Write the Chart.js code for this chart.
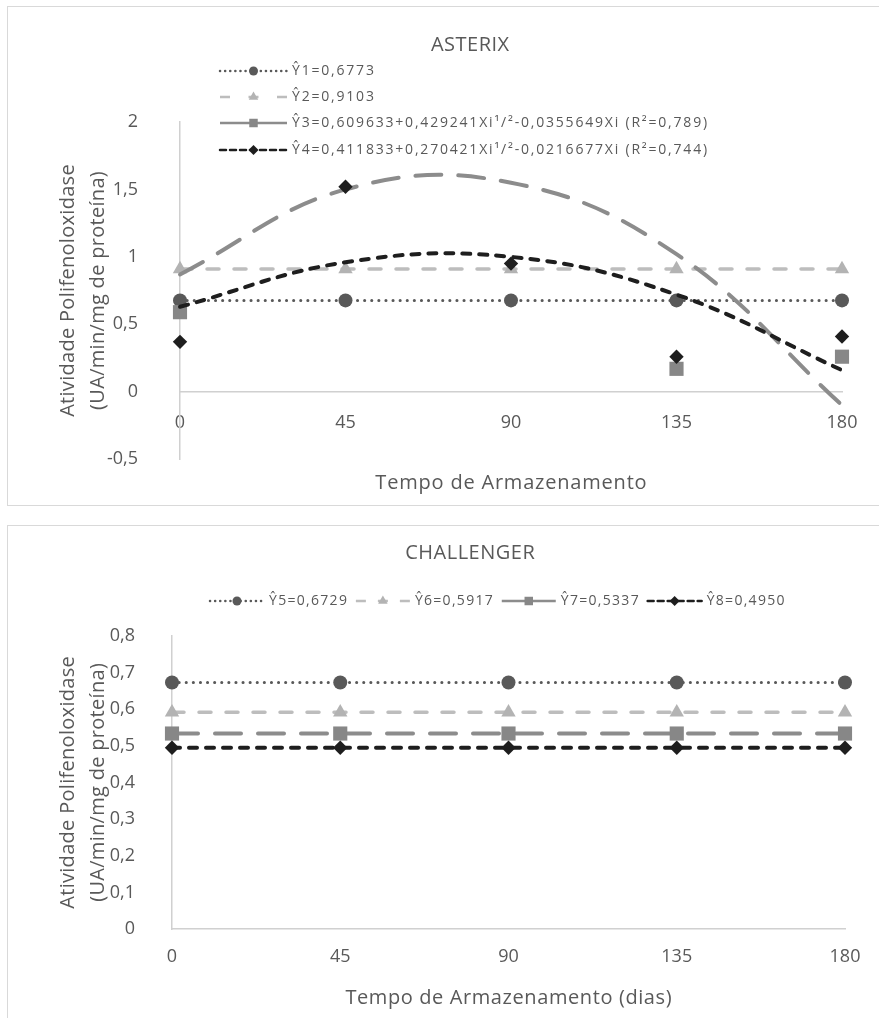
<!DOCTYPE html>
<html><head><meta charset="utf-8">
<script src="https://cdn.jsdelivr.net/npm/chart.js@4.4.0/dist/chart.umd.min.js"></script>
<style>
html,body{margin:0;padding:0;background:#fff;width:879px;height:1018px;overflow:hidden;}
.box{position:absolute;border:1px solid #d9d9d9;box-sizing:border-box;}
#b1{left:7px;top:6px;width:900px;height:500px;}
#b2{left:7px;top:525px;width:900px;height:520px;}
#c1{position:absolute;left:0;top:0;}
#c2{position:absolute;left:0;top:515px;}
</style></head><body>
<div class="box" id="b1"></div>
<div class="box" id="b2"></div>
<canvas id="c1" width="879" height="512"></canvas>
<canvas id="c2" width="879" height="503"></canvas>
<script>
// ---------------- DATA ----------------
const days = ['0', '45', '90', '135', '180'];

const asterixY1 = [0.6773, 0.6773, 0.6773, 0.6773, 0.6773];
const asterixY2 = [0.9103, 0.9103, 0.9103, 0.9103, 0.9103];
const asterixY3Obs = [0.59, null, null, 0.17, 0.26];
const asterixY3Fit = [0.87, 1.50, 1.55, 1.02, -0.10];
const asterixY4Obs = [0.37, 1.52, 0.95, 0.26, 0.41];
const asterixY4Fit = [0.63, 0.96, 1.00, 0.72, 0.16];

const challengerY5 = [0.6729, 0.6729, 0.6729, 0.6729, 0.6729];
const challengerY6 = [0.5917, 0.5917, 0.5917, 0.5917, 0.5917];
const challengerY7 = [0.5337, 0.5337, 0.5337, 0.5337, 0.5337];
const challengerY8 = [0.4950, 0.4950, 0.4950, 0.4950, 0.4950];

const asterixTicks = ['-0,5', '0', '0,5', '1', '1,5', '2'];
const challengerTicks = ['0', '0,1', '0,2', '0,3', '0,4', '0,5', '0,6', '0,7', '0,8'];

const asterixLegend = ['Ŷ1=0,6773', 'Ŷ2=0,9103',
  'Ŷ3=0,609633+0,429241Xi¹/²-0,0355649Xi (R²=0,789)',
  'Ŷ4=0,411833+0,270421Xi¹/²-0,0216677Xi (R²=0,744)'];
const challengerLegend = ['Ŷ5=0,6729', 'Ŷ6=0,5917', 'Ŷ7=0,5337', 'Ŷ8=0,4950'];

const titles = { top: 'ASTERIX', bottom: 'CHALLENGER' };
const xTitles = { top: 'Tempo de Armazenamento', bottom: 'Tempo de Armazenamento (dias)' };
const yTitle = ['Atividade Polifenoloxidase', '(UA/min/mg de proteína)'];

// ---------------- STYLES ----------------
const INK = '#595959';
const FONT = '"Open Sans", "Noto Sans", sans-serif';
const S1 = { color: '#595959', width: 3, dash: [0.1, 7], cap: 'round', marker: 'circle', radius: 7, mcolor: '#595959', lw: 2.5, ldash: [0.1, 5], lr: 4.5 };
const S2 = { color: '#bdbdbd', width: 3.5, dash: [12, 15], cap: 'round', marker: 'triangle', radius: 8.3, mcolor: '#b3b3b3', lw: 2.5, ldash: 'three', lr: 5.5 };
const S3 = { color: '#8c8c8c', width: 4, dash: [26, 17], cap: 'round', marker: 'rect', radius: 10, mcolor: '#878787', lw: 2.5, ldash: [], lr: 6 };
const S4 = { color: '#1e1e1e', width: 4, dash: [8, 9], cap: 'round', marker: 'rectRot', radius: 7.2, mcolor: '#1e1e1e', lw: 2.5, ldash: [6, 4], lr: 5 };

function lineDs(data, st, order, opts) {
  return Object.assign({
    data, order, clip: false,
    borderColor: st.color, borderWidth: st.width, borderDash: st.dash, borderCapStyle: st.cap,
    pointStyle: st.marker, pointRadius: st.radius, pointBackgroundColor: st.mcolor,
    pointBorderWidth: 0, pointHoverRadius: st.radius, tension: 0, fill: false
  }, opts || {});
}

function drawText(ctx, s, x, y, size, opts) {
  opts = opts || {};
  ctx.save();
  ctx.font = size + 'px ' + FONT;
  ctx.fillStyle = opts.color || INK;
  ctx.textBaseline = 'middle';
  ctx.textAlign = 'left';
  const sp = opts.spacing || 0;
  if ('letterSpacing' in ctx) ctx.letterSpacing = sp + 'px';
  const w = ctx.measureText(s).width - sp;
  let sx = x;
  if (opts.align === 'center') sx = x - w / 2; else if (opts.align === 'right') sx = x - w;
  ctx.fillText(s, sx, y);
  ctx.restore();
  return w;
}
function drawMarker(ctx, style, x, y, r, color) {
  ctx.save(); ctx.fillStyle = color; ctx.beginPath();
  if (style === 'circle') ctx.arc(x, y, r, 0, Math.PI * 2);
  else if (style === 'triangle') { ctx.moveTo(x, y - r); ctx.lineTo(x + r * 0.866, y + r * 0.5); ctx.lineTo(x - r * 0.866, y + r * 0.5); ctx.closePath(); }
  else if (style === 'rect') { const s = r * Math.SQRT1_2; ctx.rect(x - s, y - s, 2 * s, 2 * s); }
  else { ctx.moveTo(x, y - r); ctx.lineTo(x + r, y); ctx.lineTo(x, y + r); ctx.lineTo(x - r, y); ctx.closePath(); }
  ctx.fill(); ctx.restore();
}
function drawSample(ctx, x1, x2, y, st) {
  ctx.save();
  let dash = st.ldash;
  if (dash === 'three') dash = [10, (x2 - x1 - 30) / 2];
  ctx.strokeStyle = st.color; ctx.lineWidth = st.lw; ctx.setLineDash(dash);
  ctx.lineCap = (dash.length && st.ldash !== 'three') ? st.cap : 'butt';
  ctx.beginPath(); ctx.moveTo(x1, y); ctx.lineTo(x2, y); ctx.stroke();
  ctx.restore();
  drawMarker(ctx, st.marker, (x1 + x2) / 2, y, st.lr, st.mcolor);
}
function drawYTitle(ctx, cy, xs) {
  yTitle.forEach((t, i) => {
    ctx.save(); ctx.translate(xs[i], cy); ctx.rotate(-Math.PI / 2);
    drawText(ctx, t, 0, 0, 20, { align: 'center', spacing: 0.3 });
    ctx.restore();
  });
}

const common = {
  responsive: false, animation: false, events: [],
  plugins: { legend: { display: false }, tooltip: { enabled: false }, title: { display: false } }
};

// ---------------- TOP CHART ----------------
const topDecor = {
  id: 'topDecor',
  afterDraw(chart) {
    const ctx = chart.ctx, a = chart.chartArea;
    drawText(ctx, titles.top, 470, 45, 20, { align: 'center', spacing: 0.5 });
    drawText(ctx, xTitles.top, (a.left + a.right) / 2, 483, 20, { align: 'center', spacing: 0.8 });
    drawYTitle(ctx, (a.top + a.bottom) / 2, [68, 98]);
    const rows = [71, 97, 123, 150], st = [S1, S2, S3, S4];
    rows.forEach((y, i) => {
      drawSample(ctx, 220, 287, y, st[i]);
      drawText(ctx, asterixLegend[i], 292, y, 14, { spacing: 1.8 });
    });
  }
};
new Chart(document.getElementById('c1'), {
  type: 'line',
  data: {
    labels: days,
    datasets: [
      lineDs(asterixY1, S1, 5),
      lineDs(asterixY2, S2, 4),
      lineDs(asterixY3Fit, S3, 3, { pointRadius: 0, tension: 0.4 }),
      lineDs(asterixY3Obs, S3, 2, { showLine: false }),
      lineDs(asterixY4Fit, S4, 1, { pointRadius: 0, tension: 0.4 }),
      lineDs(asterixY4Obs, S4, 0, { showLine: false })
    ]
  },
  options: Object.assign({}, common, {
    layout: { padding: { top: 122, right: 37, left: 0, bottom: 52.5 } },
    scales: {
      x: {
        type: 'category', offset: false, position: { y: 0 },
        grid: { display: false, drawTicks: false },
        border: { display: true, color: '#d0d0d0', width: 1.5 },
        ticks: { color: INK, font: { family: FONT, size: 18 }, padding: 20, maxRotation: 0 },
        afterFit(s) { s.height = 0; }
      },
      y: {
        min: -0.5, max: 2,
        grid: { display: false, drawTicks: false },
        border: { display: true, color: '#d0d0d0', width: 1.5 },
        ticks: { stepSize: 0.5, color: INK, font: { family: FONT, size: 18 }, padding: 42,
          callback: (v, i) => asterixTicks[i] },
        afterFit(s) { s.width = 180; }
      }
    }
  }),
  plugins: [topDecor]
});

// ---------------- BOTTOM CHART ----------------
const botDecor = {
  id: 'botDecor',
  afterDraw(chart) {
    const ctx = chart.ctx, a = chart.chartArea;
    drawText(ctx, titles.bottom, 470, 38, 20, { align: 'center', spacing: 0.5 });
    drawText(ctx, xTitles.bottom, (a.left + a.right) / 2, 483, 20, { align: 'center', spacing: 0.6 });
    drawYTitle(ctx, (a.top + a.bottom) / 2, [68, 98]);
    const st = [S1, S2, S3, S4];
    let x = 210;
    const y = 86;
    st.forEach((s, i) => {
      drawSample(ctx, x, x + 54, y, s);
      x += 59;
      const w = drawText(ctx, challengerLegend[i], x, y, 14, { spacing: 1.3 });
      x += w + 9;
    });
  }
};
new Chart(document.getElementById('c2'), {
  type: 'line',
  data: {
    labels: days,
    datasets: [
      lineDs(challengerY5, S1, 3),
      lineDs(challengerY6, S2, 2),
      lineDs(challengerY7, S3, 1),
      lineDs(challengerY8, S4, 0)
    ]
  },
  options: Object.assign({}, common, {
    layout: { padding: { top: 121, right: 34, left: 0, bottom: 0 } },
    scales: {
      x: {
        type: 'category', offset: false, position: 'bottom',
        grid: { display: false, drawTicks: false },
        border: { display: true, color: '#d0d0d0', width: 1.5 },
        ticks: { color: INK, font: { family: FONT, size: 18 }, padding: 17, maxRotation: 0 },
        afterFit(s) { s.height = 89; }
      },
      y: {
        min: 0, max: 0.8,
        grid: { display: false, drawTicks: false },
        border: { display: true, color: '#d0d0d0', width: 1.5 },
        ticks: { stepSize: 0.1, color: INK, font: { family: FONT, size: 18 }, padding: 37,
          callback: (v, i) => challengerTicks[i] },
        afterFit(s) { s.width = 172; }
      }
    }
  }),
  plugins: [botDecor]
});
</script>
</body></html>
